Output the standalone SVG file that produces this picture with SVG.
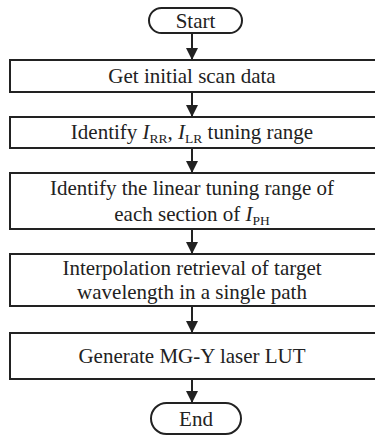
<svg xmlns="http://www.w3.org/2000/svg" width="375" height="436" viewBox="0 0 375 436">
<style>
.b{fill:#fff;stroke:#222;stroke-width:2}
.t{font-family:"Liberation Serif","Times New Roman",serif;font-size:21px;fill:#222;text-anchor:middle}
.s{font-size:13.5px}
.c{stroke:#222;stroke-width:2;fill:none}
</style>
<defs>
<marker id="ah" markerWidth="12" markerHeight="12" refX="11" refY="6" orient="auto" markerUnits="userSpaceOnUse">
<path d="M0,0 L12,6 L0,12 Z" fill="#222"/>
</marker>
</defs>
<rect width="375" height="436" fill="#fff"/>
<g id="connectors">
<line class="c" x1="192" y1="33" x2="192" y2="59" marker-end="url(#ah)"/>
<line class="c" x1="192" y1="92" x2="192" y2="116" marker-end="url(#ah)"/>
<line class="c" x1="192" y1="148" x2="192" y2="172" marker-end="url(#ah)"/>
<line class="c" x1="192" y1="229" x2="192" y2="253" marker-end="url(#ah)"/>
<line class="c" x1="192" y1="306" x2="192" y2="332" marker-end="url(#ah)"/>
<line class="c" x1="192" y1="379" x2="192" y2="402" marker-end="url(#ah)"/>
</g>
<g id="start">
<rect class="b" x="149" y="8" width="93" height="25" rx="12.5"/>
<text class="t" x="195.5" y="28">Start</text>
</g>
<g id="step1">
<rect class="b" x="10" y="60" width="367" height="32"/>
<text class="t" x="192" y="83">Get initial scan data</text>
</g>
<g id="step2">
<rect class="b" x="10" y="117" width="367" height="31"/>
<text class="t" x="192" y="139">Identify <tspan font-style="italic">I</tspan><tspan class="s" dy="4">RR</tspan><tspan dy="-4">, </tspan><tspan font-style="italic">I</tspan><tspan class="s" dy="4">LR</tspan><tspan dy="-4"> tuning range</tspan></text>
</g>
<g id="step3">
<rect class="b" x="10" y="173" width="367" height="56"/>
<text class="t" x="192" y="195">Identify the linear tuning range of</text>
<text class="t" x="192" y="221">each section of <tspan font-style="italic">I</tspan><tspan class="s" dy="4">PH</tspan></text>
</g>
<g id="step4">
<rect class="b" x="10" y="254" width="367" height="52"/>
<text class="t" x="192" y="275">Interpolation retrieval of target</text>
<text class="t" x="192" y="299">wavelength in a single path</text>
</g>
<g id="step5">
<rect class="b" x="10" y="333" width="367" height="46"/>
<text class="t" x="192" y="363">Generate MG-Y laser LUT</text>
</g>
<g id="end">
<rect class="b" x="151" y="403" width="90" height="31" rx="15.5"/>
<text class="t" x="196" y="426">End</text>
</g>
</svg>
